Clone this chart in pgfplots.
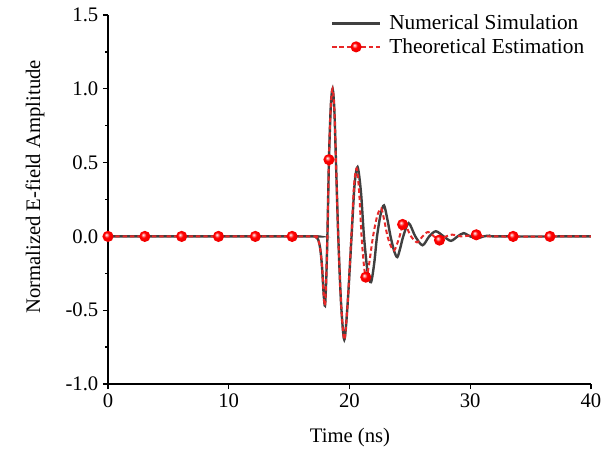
\documentclass[border=0pt]{standalone}
\usepackage{pgfplots}
\pgfplotsset{compat=1.18}
\usepackage{fontspec}
\setmainfont{Liberation Serif}
\definecolor{simgray}{RGB}{64,64,64}
\definecolor{estred}{RGB}{232,40,40}
\pgfdeclareradialshading{redball}{\pgfpoint{-8bp}{8bp}}{%
  color(0bp)=(white); color(4bp)=(red!35!white); color(12bp)=(red);
  color(30bp)=(red!92!black); color(50bp)=(red!75!black)}
\pgfdeclareplotmark{redball}{%
  \pgfpathcircle{\pgfpointorigin}{\pgfplotmarksize}%
  \pgfshadepath{redball}{0}\pgfusepath{}}

\begin{document}
\begin{tikzpicture}
\begin{axis}[
  scale only axis,
  width=362.25pt,
  height=276.75pt,
  clip=false,
  xmin=0, xmax=40,
  ymin=-1, ymax=1.5,
  axis x line*=bottom,
  axis y line*=left,
  axis line style={black, line width=1pt},
  tick align=outside,
  tick style={black, line width=1pt},
  major tick length=3.75pt,
  minor tick length=2.2pt,
  xtick={0,10,20,30,40},
  xticklabels={0,10,20,30,40},
  ytick={-1,-0.5,0,0.5,1,1.5},
  yticklabels={-1.0,-0.5,0.0,0.5,1.0,1.5},
  minor y tick num=1,
  font=\fontsize{15.5}{18}\selectfont,
  tick label style={font=\fontsize{15.5}{18}\selectfont},
  xlabel={Time (ns)},
  ylabel={Normalized E-field Amplitude},
  xlabel style={at={(axis description cs:0.501,-0.146)}, anchor=center},
  ylabel style={at={(axis description cs:-0.151,0.534)}, anchor=center},
  legend style={draw=none, fill=none, at={(axis description cs:0.992,1.008)},
    anchor=north east, inner sep=0pt, row sep=1pt,
    font=\fontsize{16}{18}\selectfont,
    /tikz/every odd column/.append style={column sep=4pt}},
  legend cell align=left,
  legend image code/.code={\draw[mark repeat=2, mark phase=2, #1]
    plot coordinates {(0pt,0pt) (18pt,0pt) (36pt,0pt)};},
]
% numerical simulation
\addplot[simgray, line width=1.8pt, smooth, tension=0.5] coordinates {
(0,0) (8,0) (16.9,0) (17.2,-0.003) (17.4,-0.02) (17.57,-0.08) (17.72,-0.2)
(17.86,-0.39) (17.97,-0.47)
(18.07,-0.3) (18.17,0.0) (18.3,0.52) (18.45,0.88) (18.6,1.0) (18.75,0.85)
(18.9,0.45) (19.07,0.0) (19.3,-0.45) (19.57,-0.70) (19.85,-0.45) (20.17,0.0)
(20.42,0.35) (20.67,0.47) (20.95,0.3) (21.2,0.0) (21.5,-0.24) (21.78,-0.31)
(22.05,-0.18) (22.28,0.0) (22.58,0.15) (22.86,0.21) (23.15,0.11) (23.4,0.0)
(23.7,-0.1) (23.96,-0.14) (24.2,-0.08) (24.45,0.0) (24.9,0.09) (25.45,0.0)
(26.05,-0.06) (26.6,0.0) (27.15,0.035) (27.8,0.0) (28.4,-0.03) (28.95,0.0)
(29.45,0.022) (30.0,0.0) (30.6,-0.012) (31.1,0) (31.6,0.005) (32.3,0) (40,0)
};
\addlegendentry{Numerical Simulation}
% theoretical estimation
\addplot[estred, line width=1.5pt, dash pattern=on 3.3pt off 2.2pt, smooth, tension=0.5, forget plot] coordinates {
(0,0) (8,0) (16.9,0) (17.2,-0.003) (17.4,-0.02) (17.57,-0.08) (17.72,-0.2)
(17.86,-0.39) (17.97,-0.47)
(18.07,-0.3) (18.17,0.0) (18.3,0.52) (18.45,0.88) (18.6,1.0) (18.75,0.85)
(18.9,0.45) (19.07,0.0) (19.3,-0.45) (19.57,-0.70) (19.85,-0.45) (20.15,0.0)
(20.38,0.35) (20.6,0.46) (20.8,0.3) (21.0,0.0) (21.2,-0.2) (21.38,-0.28)
(21.6,-0.2) (21.95,0.0) (22.3,0.14) (22.62,0.19) (22.85,0.12) (23.15,0.0)
(23.45,-0.07) (23.7,-0.095) (23.9,-0.06) (24.15,0.0) (24.4,0.08) (24.55,0.085)
(24.8,0.05) (25.1,0) (25.6,-0.04) (26.05,0) (26.5,0.03) (27.0,0) (27.45,-0.025)
(28.0,0) (28.5,0.012) (29.3,0) (30.5,0.011) (31.5,0) (40,0)
};
\addplot[only marks, mark=redball, mark size=4.2pt, forget plot] coordinates {
(0,0) (3.05,0) (6.1,0) (9.15,0) (12.2,0) (15.25,0) (18.3,0.52) (21.35,-0.276)
(24.4,0.081) (27.45,-0.025) (30.5,0.011) (33.55,0) (36.6,0)
};
\addlegendimage{estred, line width=1.5pt, dash pattern=on 3.3pt off 2.2pt,
  mark=redball, mark size=4.2pt, mark options={solid}}
\addlegendentry{Theoretical Estimation}
\path (axis description cs:-0.2236,-0.2033) rectangle (axis description cs:1.0373,1.0407);
\end{axis}
\end{tikzpicture}
\end{document}
